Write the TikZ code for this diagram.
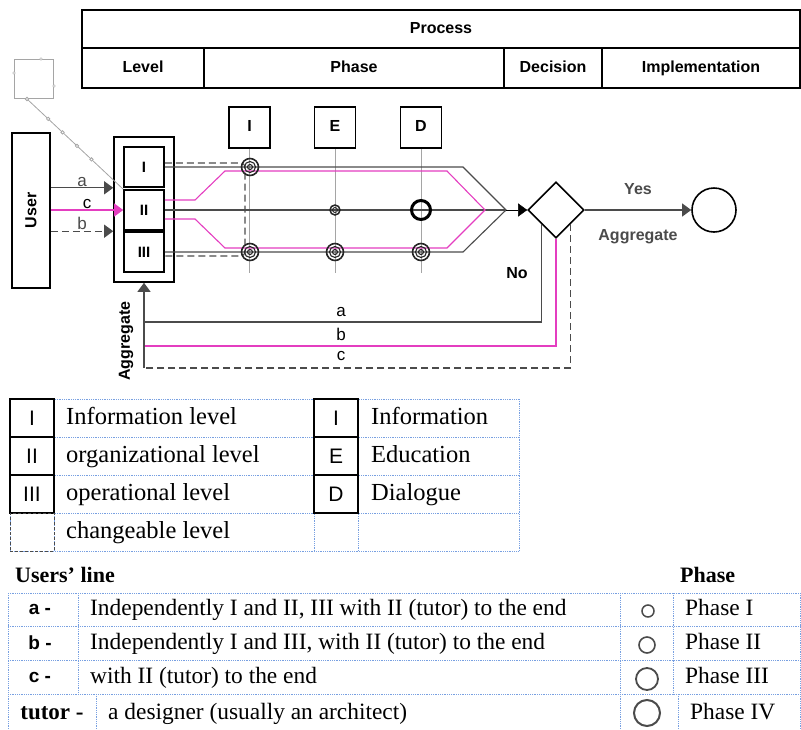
\documentclass[tikz,border=0pt]{standalone}
\usepackage{fontspec}
\setmainfont{Liberation Serif}
\setsansfont{Liberation Sans}
\usetikzlibrary{shapes.geometric,arrows.meta}
\definecolor{pinkline}{RGB}{228,62,192}
\definecolor{gridblue}{RGB}{120,160,225}
\definecolor{lgray}{RGB}{165,165,165}
\definecolor{dgray}{RGB}{75,75,75}
\tikzset{
  bx/.style={draw, line width=1.6pt, inner sep=0pt},
  hd/.style={bx, font=\sffamily\bfseries\fontsize{16}{18}\selectfont, text height=11.5pt, text depth=3.5pt},
  lb/.style={font=\sffamily\bfseries\fontsize{16}{19}\selectfont},
  sl/.style={font=\sffamily\fontsize{17}{19}\selectfont, inner sep=1pt},
  sy/.style={font=\sffamily\fontsize{21}{24}\selectfont},
  tx/.style={font=\fontsize{24.5}{26}\selectfont, anchor=west, inner sep=0pt, text height=19pt, text depth=6pt},
  ux/.style={font=\fontsize{23.4}{26}\selectfont, anchor=west, inner sep=0pt, text height=17pt, text depth=5pt},
  tip/.style={-{Triangle[length=9pt,width=13pt]}},
  dot/.style={circle, draw=lgray, fill=white, inner sep=1.2pt},
  grid/.style={gridblue, densely dotted, line width=0.8pt},
  wire/.style={dgray, line width=1.1pt},
  dsh/.style={dash pattern=on 7pt off 4pt},
}
\begin{document}
\begin{tikzpicture}[x=1pt,y=-1pt]
    \useasboundingbox (0,0) rectangle (801,729);
    \node[hd, minimum width=718pt, minimum height=38pt] (H0_0) at (441,29) {Process};
    \node[hd, minimum width=122pt, minimum height=40pt] (H1_0) at (143,68) {Level};
    \node[hd, minimum width=300pt, minimum height=40pt] (H1_1) at (354,68) {Phase};
    \node[hd, minimum width=98pt, minimum height=40pt] (H1_2) at (553,68) {Decision};
    \node[hd, minimum width=198pt, minimum height=40pt] (H1_3) at (701,68) {Implementation};

    \node[draw=lgray, line width=0.8pt, minimum size=39pt, inner sep=0pt] (Sq) at (33.5,79) {};
    \foreach \p in {(41,59),(14,73),(54,86)} \node[dot, inner sep=1pt] at \p {};
    \coordinate (Sq_p) at (27,99);

    \node[bx, minimum width=38pt, minimum height=155pt] (U) at (31,210.5) {};
    \node[lb, rotate=90] at (U) {User};
    \node[bx, minimum width=60pt, minimum height=145pt] (L0) at (144,209.5) {};
    \node[bx, lb, font=\sffamily\bfseries\fontsize{15}{16}\selectfont, minimum width=40pt, minimum height=40pt] (L1_1) at (144,167) {I};
    \node[bx, lb, font=\sffamily\bfseries\fontsize{15}{16}\selectfont, minimum width=40pt, minimum height=40pt] (L1_2) at (144,210) {II};
    \node[bx, lb, font=\sffamily\bfseries\fontsize{15}{16}\selectfont, minimum width=40pt, minimum height=40pt] (L1_3) at (144,252) {III};
    \draw[lgray, line width=0.8pt] (Sq_p) -- node[dot, pos=0] {} node[dot, pos=.22] {} node[dot, pos=.37] {} node[dot, pos=.52] {} node[dot, pos=.67] {} (L1_2.north west);

    \draw[tip, wire] (U.east |- L1_1.south) -- node[sl, above] {a} (L0.west |- L1_1.south);
    \draw[tip, pinkline, line width=1.1pt] (U.east |- L1_2) -- node[sl, above, black] {c} (L1_2.west);
    \draw[tip, wire, dsh] (U.east |- L1_3.north) -- node[sl, above] {b} (L0.west |- L1_3.north);

    \node[hd, minimum size=41pt] (P_1) at (249.5,127.5) {I};
    \node[hd, minimum size=41pt] (P_2) at (335,127.5) {E};
    \node[hd, minimum size=41pt] (P_3) at (421,127.5) {D};
    \foreach \i in {1,2,3} \draw[lgray, line width=1pt] (P_\i.south) -- ++(0,124);

    \coordinate (Tip) at (506,210);
    \draw[wire, dsh, rounded corners=4pt] ([yshift=4pt]L1_1.east) -- (245,163) -- (245,256) -- ([yshift=-4pt]L1_3.east);
    \draw[wire] (L1_1.east) -- (463,167) -- (Tip) -- (463,252) -- (L1_3.east);
    \draw[wire] (L1_2.east) -- (Tip);
    \draw[pinkline, line width=1.1pt] ([yshift=10pt]L1_2.east) -- (195,200) -- (225,171) -- (447,171) -- (485,210)
      -- (447,248) -- (225,248) -- (195,219) -- ([yshift=-9pt]L1_2.east);

    \foreach \p in {(250,167),(250,252),(335,252),(421,252)} {
      \draw[black!85, line width=1.6pt] \p circle (8.5pt);
      \draw[black!85, line width=1.1pt] \p circle (5.5pt) \p circle (2.5pt);
    }
    \draw[black!85, line width=1.5pt] (335,210) circle (5pt);
    \draw[black!85, line width=0.9pt] (335,210) circle (2.5pt);
    \draw[black, line width=3pt] (421,210) circle (9.5pt);

    \node[bx, diamond, minimum width=56pt, minimum height=56pt] (Dec) at (556,210) {};
    \node[bx, circle, minimum size=44pt] (End) at (714,210) {};
    \draw[tip] (Tip) -- (Dec.west);
    \draw[tip, wire] (Dec.east) -- node[lb, above=11pt] {Yes} node[lb, below=16pt] {Aggregate} (End.west);
    \node[lb] (No) at (517,273) {No};

    \draw[wire] (Dec.south west) |- (L0.south |- 0,322);
    \draw[pinkline, line width=1.1pt] (Dec.south) |- (L0.south |- 0,346);
    \draw[wire, dsh] (Dec.south east) |- (L0.south |- 0,368);
    \draw[tip, wire] (L0.south |- 0,368) -- (L0.south);
    \node[sl] (Ra) at (341,312) {a};
    \node[sl] (Rb) at (341,334) {b};
    \node[sl] (Rc) at (341,356) {c};
    \node[lb, rotate=90] (Agg) at (126,341) {Aggregate};

    \foreach \y in {399,437,475,513,551} \draw[grid] (10,\y) -- (519,\y);
    \foreach \x in {10,54,314,358,519} \draw[grid] (\x,399) -- (\x,551);
    \node[bx, sy, minimum width=44pt, minimum height=38pt] (G1_1) at (32,418) {I};
    \node[bx, sy, minimum width=44pt, minimum height=38pt] (G2_1) at (32,456) {II};
    \node[bx, sy, minimum width=44pt, minimum height=38pt] (G3_1) at (32,494) {III};
    \node[draw=dgray, densely dashed, line width=0.8pt, minimum width=44pt, minimum height=38pt] (G4_1) at (32,532) {};
    \node[bx, sy, minimum width=44pt, minimum height=38pt] (G1_3) at (336,418) {I};
    \node[bx, sy, minimum width=44pt, minimum height=38pt] (G2_3) at (336,456) {E};
    \node[bx, sy, minimum width=44pt, minimum height=38pt] (G3_3) at (336,494) {D};
    \node[tx] (G1_2) at (66,418) {Information level};
    \node[tx] (G2_2) at (66,456) {organizational level};
    \node[tx] (G3_2) at (66,494) {operational level};
    \node[tx] (G4_2) at (66,532) {changeable level};
    \node[tx] (G1_4) at (371,418) {Information};
    \node[tx] (G2_4) at (371,456) {Education};
    \node[tx] (G3_4) at (371,494) {Dialogue};

    \node[ux, font=\bfseries\fontsize{22}{26}\selectfont] (T0_0) at (15,576) {Users’ line};
    \node[ux, font=\bfseries\fontsize{22}{26}\selectfont] (T0_3) at (680,576) {Phase};
    \foreach \y in {593,626,660,694} \draw[grid] (8,\y) -- (801,\y);
    \foreach \x in {8,78,620,673,800} \draw[grid] (\x,593) -- (\x,694);
    \foreach \x in {8,96,620,678,800} \draw[grid] (\x,694) -- (\x,729);
    \node[font=\sffamily\bfseries\fontsize{19}{22}\selectfont] (T1_0) at (40,609) {a -};
    \node[font=\sffamily\bfseries\fontsize{19}{22}\selectfont] (T2_0) at (40,643) {b -};
    \node[font=\sffamily\bfseries\fontsize{19}{22}\selectfont] (T3_0) at (40,677) {c -};
    \node[ux, anchor=center, font=\bfseries\fontsize{23}{26}\selectfont] (T4_0) at (52,713) {tutor -};
    \node[ux] (T1_1) at (90,609) {Independently I and II, III with II (tutor) to the end};
    \node[ux] (T2_1) at (90,643) {Independently I and III, with II (tutor) to the end};
    \node[ux] (T3_1) at (90,677) {with II (tutor) to the end};
    \node[ux] (T4_1) at (108,713) {a designer (usually an architect)};
    \draw[dgray, line width=1.5pt] (648,611) circle (6pt);
    \draw[dgray, line width=1.6pt] (647,645) circle (8pt);
    \draw[dgray, line width=1.8pt] (647,679) circle (11pt);
    \draw[dgray, line width=2pt] (647,713) circle (13pt);
    \node[ux] (T1_3) at (685,609) {Phase I};
    \node[ux] (T2_3) at (685,643) {Phase II};
    \node[ux] (T3_3) at (685,677) {Phase III};
    \node[ux] (T4_3) at (690,713) {Phase IV};
\end{tikzpicture}
\end{document}
